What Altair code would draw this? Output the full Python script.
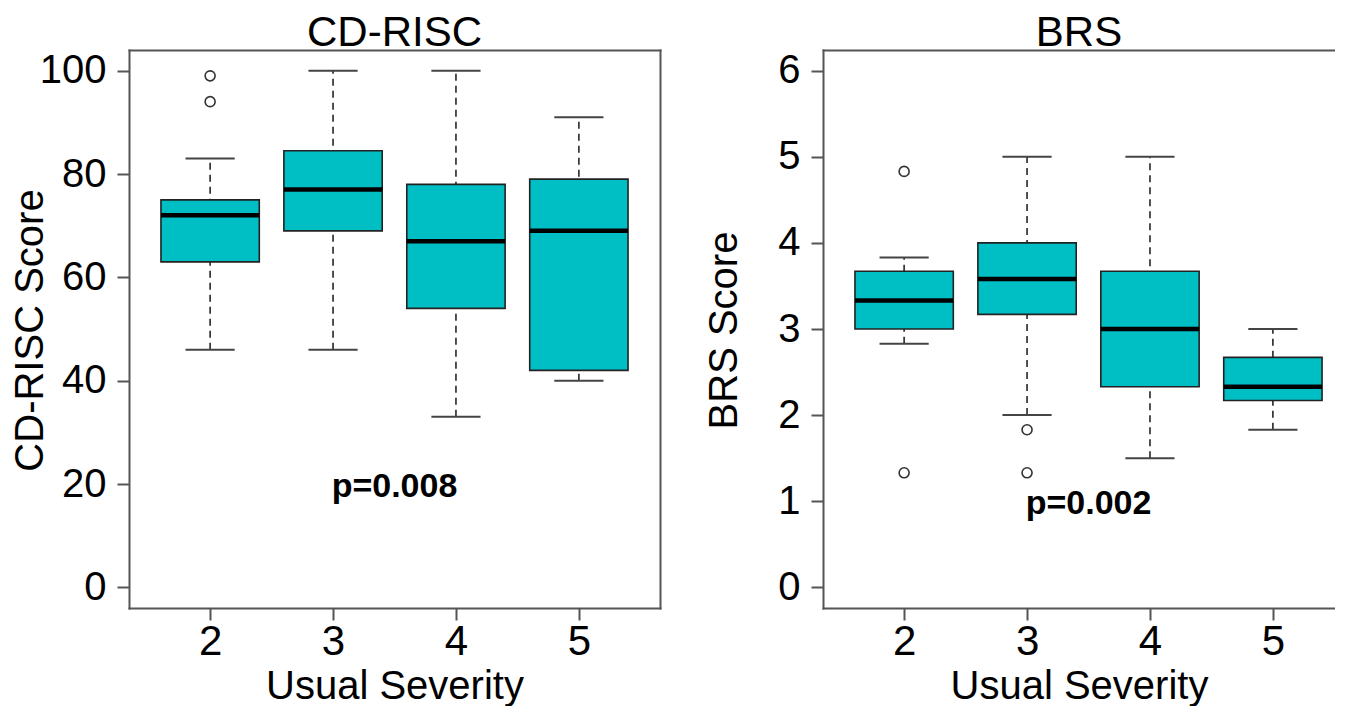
import altair as alt
import pandas as pd

# ---- data ----
severity = [2, 3, 4, 5]

cd_low = [46, 46, 33, 40]
cd_q1 = [63, 69, 54, 42]
cd_median = [72, 77, 67, 69]
cd_q3 = [75, 84.5, 78, 79]
cd_high = [83, 100, 100, 91]
cd_out_sev = [2, 2]
cd_out_val = [99, 94]

brs_low = [2.83, 2.0, 1.5, 1.83]
brs_q1 = [3.0, 3.17, 2.33, 2.17]
brs_median = [3.33, 3.58, 3.0, 2.33]
brs_q3 = [3.67, 4.0, 3.67, 2.67]
brs_high = [3.83, 5.0, 5.0, 3.0]
brs_out_sev = [2, 2, 3, 3]
brs_out_val = [4.83, 1.33, 1.83, 1.33]

p_labels = ["p=0.008", "p=0.002"]
p_x = [3.5, 3.5]
p_y = [20, 1.0]

cd_ticks = [0, 20, 40, 60, 80, 100]
brs_ticks = [0, 1, 2, 3, 4, 5, 6]

FONT = "Liberation Sans, Arial, Helvetica, sans-serif"
FILL = "#00BFC4"
FRAME = "#555555"
BOX_HALF = 0.4
CAP_HALF = 0.2


def panel(lo, q1, med, q3, hi, out_sev, out_val, plabel, px, py,
          title, ytitle, ydom, yticks, xdom, width, right_frame):
    stats = pd.DataFrame({"sev": severity, "lo": lo, "q1": q1,
                          "med": med, "q3": q3, "hi": hi})
    outs = pd.DataFrame({"sev": out_sev, "val": out_val})
    ptext = pd.DataFrame({"sev": [px], "val": [py], "label": [plabel]})

    xscale = alt.Scale(domain=xdom, nice=False, zero=False)
    yscale = alt.Scale(domain=ydom, nice=False, zero=False)
    xaxis = alt.Axis(values=severity, format="d", title="Usual Severity",
                     labelFontSize=42, labelPadding=1, titleFontSize=40,
                     titlePadding=4)
    yaxis = alt.Axis(values=yticks, format="d", title=ytitle,
                     labelFontSize=40, labelPadding=11, titleFontSize=40,
                     titleX=-87, titleY=280, titleAngle=270,
                     titleAlign="center", titleBaseline="alphabetic")

    def X(f):
        return alt.X(f, type="quantitative", scale=xscale, axis=xaxis)

    def Y(f):
        return alt.Y(f, type="quantitative", scale=yscale, axis=yaxis)

    base = alt.Chart(stats).transform_calculate(
        xl=alt.datum.sev - BOX_HALF,
        xr=alt.datum.sev + BOX_HALF,
        cl=alt.datum.sev - CAP_HALF,
        cr=alt.datum.sev + CAP_HALF,
    )

    whisker = base.mark_rule(strokeDash=[7, 5], color="#333333",
                             strokeWidth=1.7).encode(
        x=X("sev"), y=Y("lo"), y2=alt.Y2("hi"))
    cap_lo = base.mark_rule(color="#444444", strokeWidth=2).encode(
        x=X("cl"), x2=alt.X2("cr"), y=Y("lo"))
    cap_hi = base.mark_rule(color="#444444", strokeWidth=2).encode(
        x=X("cl"), x2=alt.X2("cr"), y=Y("hi"))
    box = base.mark_rect(fill=FILL, stroke="#222222", strokeWidth=1.6).encode(
        x=X("xl"), x2=alt.X2("xr"), y=Y("q1"), y2=alt.Y2("q3"))
    median = base.mark_rule(color="black", strokeWidth=4.5).encode(
        x=X("xl"), x2=alt.X2("xr"), y=Y("med"))
    outliers = alt.Chart(outs).mark_point(
        shape="circle", filled=False, size=100, color="#333333",
        strokeWidth=1.6, opacity=1).encode(x=X("sev"), y=Y("val"))
    ptxt = alt.Chart(ptext).mark_text(
        font=FONT, fontSize=34, fontWeight="bold", color="black",
        align="center", baseline="alphabetic", dy=13).encode(
        x=X("sev"), y=Y("val"), text="label:N")

    main = alt.layer(whisker, cap_lo, cap_hi, box, median, outliers, ptxt)

    # top (and right) frame lines drawn as bare axis domains
    fx = alt.X("sev", type="quantitative", scale=xscale,
               axis=alt.Axis(orient="top", labels=False, ticks=False,
                             domain=True, title=None))
    if right_frame:
        fy = alt.Y("lo", type="quantitative", scale=yscale,
                   axis=alt.Axis(orient="right", labels=False, ticks=False,
                                 domain=True, title=None))
    else:
        fy = alt.Y("lo", type="quantitative", scale=yscale, axis=None)
    frame = alt.Chart(stats).mark_point(opacity=0).encode(x=fx, y=fy)

    return alt.layer(main, frame).resolve_axis(
        x="independent", y="independent").properties(
        width=width, height=558, title=title)


left = panel(cd_low, cd_q1, cd_median, cd_q3, cd_high, cd_out_sev, cd_out_val,
             p_labels[0], p_x[0], p_y[0], "CD-RISC", "CD-RISC Score",
             [-4, 104], cd_ticks, [1.34, 5.66], 531, True)
right = panel(brs_low, brs_q1, brs_median, brs_q3, brs_high, brs_out_sev,
              brs_out_val, p_labels[1], p_x[1], p_y[1], "BRS", "BRS Score",
              [-0.24, 6.24], brs_ticks, [1.34, 5.5053], 512, False)

chart = alt.hconcat(left, right, spacing=44).properties(
    padding={"left": 2, "top": 4, "right": 0, "bottom": 0},
    background="white",
).configure_view(
    strokeWidth=0
).configure_axis(
    grid=False, domain=True, domainColor=FRAME, domainWidth=2,
    domainCap="square", tickColor=FRAME, tickWidth=2, tickSize=12,
    labelFont=FONT, labelColor="black", titleFont=FONT, titleColor="black",
    titleFontWeight="normal"
).configure_title(
    font=FONT, fontSize=42, fontWeight="normal", anchor="middle",
    offset=-5, color="black"
)

chart.save("out.html", embed_options={"renderer": "svg", "actions": False})
